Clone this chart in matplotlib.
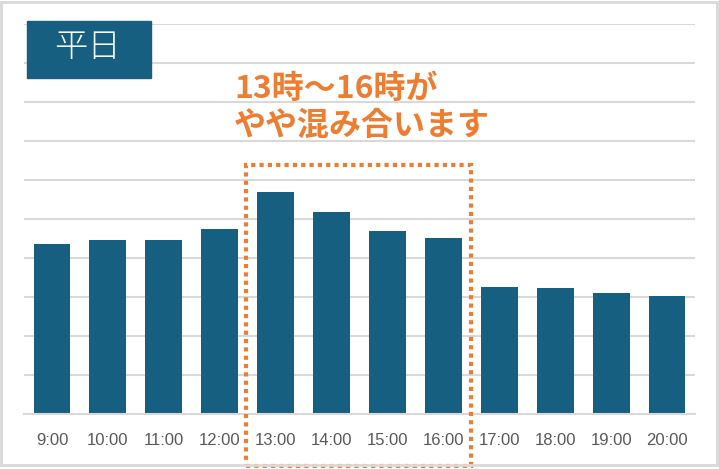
import matplotlib.pyplot as plt
from matplotlib.patches import Rectangle

# data
hours = ["9:00", "10:00", "11:00", "12:00", "13:00", "14:00",
         "15:00", "16:00", "17:00", "18:00", "19:00", "20:00"]
crowd = [4.36, 4.46, 4.46, 4.74, 5.69, 5.18, 4.69, 4.51, 3.26, 3.23, 3.10, 3.03]
title = "平日"
note = "13時〜16時が\nやや混み合います"

bar_color = "#175F80"
orange = "#ED7D31"
grid_gray = "#D9D9D9"

fig = plt.figure(figsize=(7.19, 4.69), dpi=100)
ax = fig.add_axes([24 / 719, 1 - 414 / 469, 671 / 719, 390 / 469])

x = range(len(hours))
ax.bar(x, crowd, width=0.66, color=bar_color, zorder=2)
ax.set_xlim(-0.5, len(hours) - 0.5)
ax.set_ylim(0, 10)
ax.set_yticks(range(0, 11))
ax.yaxis.grid(True, color=grid_gray, linewidth=1.5, zorder=0)
ax.set_axisbelow(True)
ax.tick_params(axis="y", left=False, labelleft=False)
ax.set_xticks(list(x))
ax.set_xticklabels(hours, fontsize=12, color="#595959", family="Liberation Sans")
ax.tick_params(axis="x", length=0, pad=14)
for s in ["top", "right", "left"]:
    ax.spines[s].set_visible(False)
ax.spines["bottom"].set_color(grid_gray)
ax.spines["bottom"].set_linewidth(1.5)

# dotted box around 13:00-16:00
box = Rectangle((3.47, -1.33), 4.02, 7.71, fill=False, edgecolor=orange,
                linewidth=3, linestyle=(0, (1, 1)), clip_on=False, zorder=5)
ax.add_patch(box)

# annotation text
fig.text(234 / 719, 1 - 107 / 469, note, color=orange, fontsize=23, fontweight="bold",
         family=["Noto Sans CJK JP", "DejaVu Sans"], va="center", ha="left",
         linespacing=1.2)

# title box
fig.patches.append(Rectangle((27 / 719, 1 - 78 / 469), 124 / 719, 57 / 469,
                             transform=fig.transFigure, color="#175F80", zorder=3))
fig.text(87 / 719, 1 - 48 / 469, title, color="white", fontsize=24, fontweight="light",
         family=["Noto Sans CJK JP", "DejaVu Sans"], ha="center", va="center", zorder=4)

# outer border
fig.patches.append(Rectangle((1 / 719, 1 - 465 / 469), 716 / 719, 463 / 469,
                             transform=fig.transFigure, fill=False,
                             edgecolor="#D9D9D9", linewidth=2, zorder=1))

fig.savefig("out.png", dpi=100)
